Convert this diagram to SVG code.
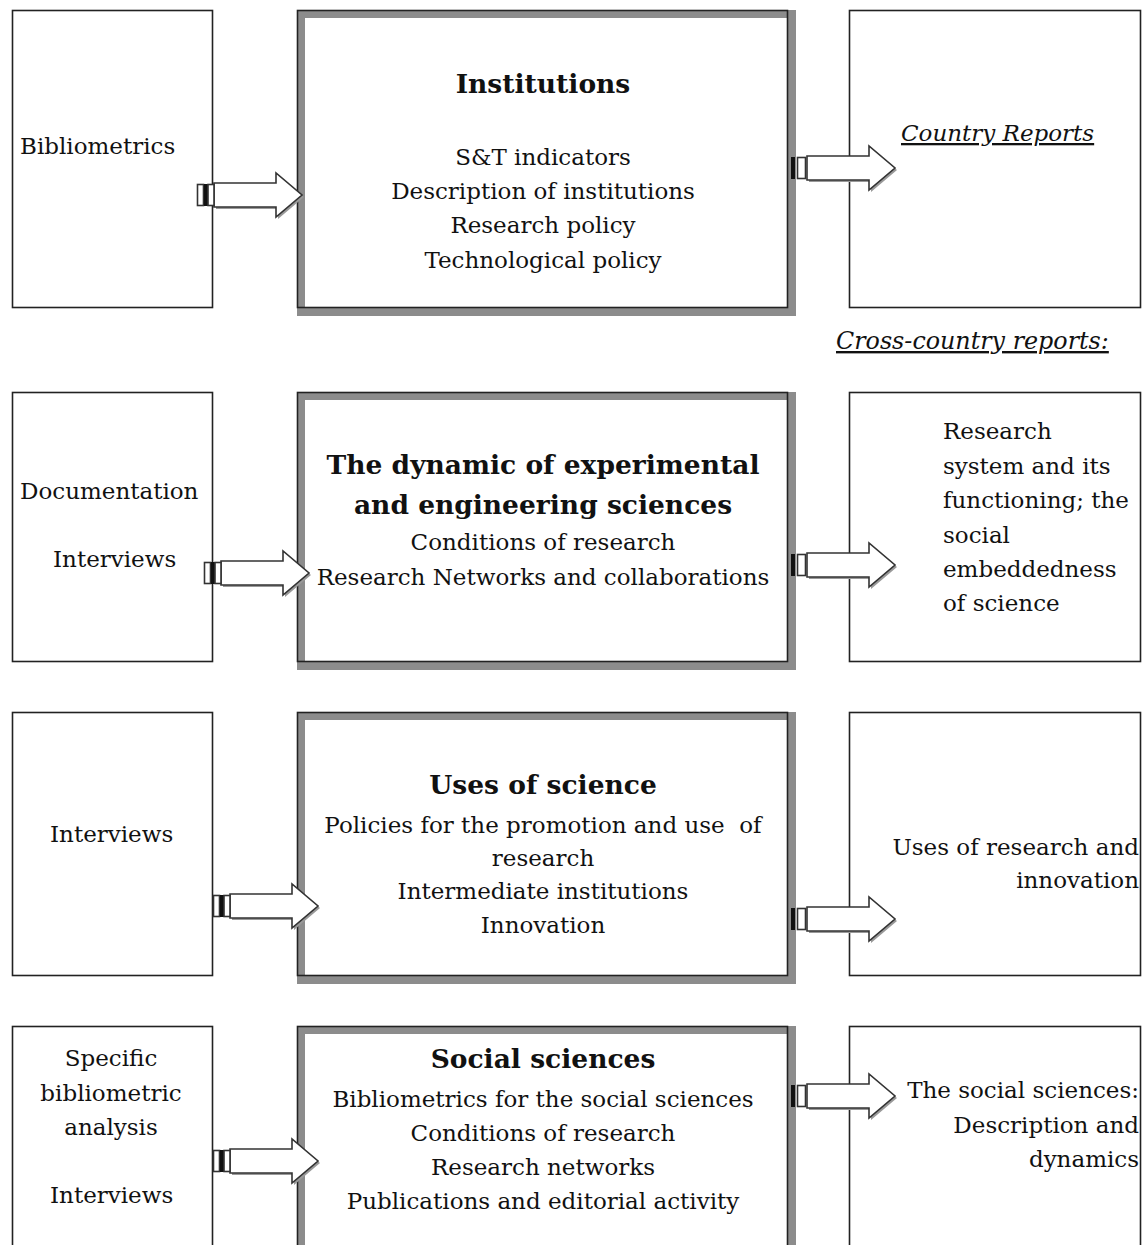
<svg xmlns="http://www.w3.org/2000/svg" width="1142" height="1245" viewBox="0 0 1142 1245">
<style>
.box{fill:#fff;stroke:#222;stroke-width:1.6}
.frame{fill:#8c8c8c}
.inner{fill:#fff}
.edge{fill:none;stroke:#222;stroke-width:1.6}
text{font-family:"DejaVu Serif","Liberation Serif",serif;font-size:23px;fill:#111}
.c{text-anchor:middle}
.r{text-anchor:end}
.t{font-weight:bold;font-size:26.5px}
.i{font-style:italic;text-decoration:underline;font-size:23.8px}
.ar{fill:#fff;stroke:#333;stroke-width:1.6}
.sh{fill:#999}
</style>
<defs>
<g id="arrow">
<path class="sh" d="M19,-10 H81 V-20 L107,2 L81,24 V14 H19 Z"/>
<path class="ar" d="M17,-12 H79 V-22 L105,0 L79,22 V12 H17 Z"/>
<rect class="ar" x="0.5" y="-10.5" width="6" height="21"/>
<rect x="7" y="-11" width="4" height="22" fill="#111"/>
<rect class="ar" x="11" y="-10.5" width="6" height="21"/>
</g>
<g id="arrowR">
<path class="sh" d="M19,-10 H81 V-20 L107,2 L81,24 V14 H19 Z"/>
<path class="ar" d="M17,-12 H79 V-22 L105,0 L79,22 V12 H17 Z"/>
<rect x="1" y="-11" width="4" height="22" fill="#111"/>
<rect class="ar" x="7.5" y="-10.5" width="8" height="21"/>
</g>
</defs>

<!-- Row 1 -->
<g id="n-bibliometrics">
<rect class="box" x="12.5" y="10.5" width="200" height="297"/>
<text x="20" y="154">Bibliometrics</text>
</g>
<g id="n-institutions">
<rect class="frame" x="297" y="10" width="499" height="306"/>
<rect class="inner" x="305" y="18" width="482" height="289"/>
<rect class="edge" x="297.5" y="10.5" width="490" height="297"/>
<text class="c t" x="543" y="93">Institutions</text>
<text class="c" x="543" y="165">S&amp;T indicators</text>
<text class="c" x="543" y="199">Description of institutions</text>
<text class="c" x="543" y="233">Research policy</text>
<text class="c" x="543" y="268">Technological policy</text>
</g>
<g id="n-country-reports">
<rect class="box" x="849.5" y="10.5" width="291" height="297"/>
<text class="i" x="901" y="141" style="font-size:23px">Country Reports</text>
</g>
<g id="n-cross-country">
<text class="i" x="836" y="349">Cross-country reports:</text>
</g>

<!-- Row 2 -->
<g id="n-documentation">
<rect class="box" x="12.5" y="392.5" width="200" height="269"/>
<text x="20" y="499">Documentation</text>
<text x="53" y="567">Interviews</text>
</g>
<g id="n-dynamic">
<rect class="frame" x="297" y="392" width="499" height="278"/>
<rect class="inner" x="305" y="400" width="482" height="261"/>
<rect class="edge" x="297.5" y="392.5" width="490" height="269"/>
<text class="c t" x="543" y="474">The dynamic of experimental</text>
<text class="c t" x="543" y="514">and engineering sciences</text>
<text class="c" x="543" y="550">Conditions of research</text>
<text class="c" x="543" y="585">Research Networks and collaborations</text>
</g>
<g id="n-research-system">
<rect class="box" x="849.5" y="392.5" width="291" height="269"/>
<text x="943" y="439">Research</text>
<text x="943" y="474">system and its</text>
<text x="943" y="508">functioning; the</text>
<text x="943" y="543">social</text>
<text x="943" y="577">embeddedness</text>
<text x="943" y="611">of science</text>
</g>

<!-- Row 3 -->
<g id="n-interviews">
<rect class="box" x="12.5" y="712.5" width="200" height="263"/>
<text x="50" y="842">Interviews</text>
</g>
<g id="n-uses">
<rect class="frame" x="297" y="712" width="499" height="272"/>
<rect class="inner" x="305" y="720" width="482" height="255"/>
<rect class="edge" x="297.5" y="712.5" width="490" height="263"/>
<text class="c t" x="543" y="794">Uses of science</text>
<text class="c" x="543" y="833" style="white-space:pre">Policies for the promotion and use  of</text>
<text class="c" x="543" y="866">research</text>
<text class="c" x="543" y="899">Intermediate institutions</text>
<text class="c" x="543" y="933">Innovation</text>
</g>
<g id="n-uses-research">
<rect class="box" x="849.5" y="712.5" width="291" height="263"/>
<text class="r" x="1139" y="855">Uses of research and</text>
<text class="r" x="1139" y="888">innovation</text>
</g>

<!-- Row 4 -->
<g id="n-specific">
<rect class="box" x="12.5" y="1026.5" width="200" height="240"/>
<text class="c" x="111" y="1066">Specific</text>
<text class="c" x="111" y="1101">bibliometric</text>
<text class="c" x="111" y="1135">analysis</text>
<text x="50" y="1203">Interviews</text>
</g>
<g id="n-social">
<rect class="frame" x="297" y="1026" width="499" height="240"/>
<rect class="inner" x="305" y="1034" width="482" height="230"/>
<rect class="edge" x="297.5" y="1026.5" width="490" height="240"/>
<text class="c t" x="543" y="1068">Social sciences</text>
<text class="c" x="543" y="1107">Bibliometrics for the social sciences</text>
<text class="c" x="543" y="1141">Conditions of research</text>
<text class="c" x="543" y="1175">Research networks</text>
<text class="c" x="543" y="1209">Publications and editorial activity</text>
</g>
<g id="n-social-desc">
<rect class="box" x="849.5" y="1026.5" width="291" height="240"/>
<text class="r" x="1139" y="1098">The social sciences:</text>
<text class="r" x="1139" y="1133">Description and</text>
<text class="r" x="1139" y="1167">dynamics</text>
</g>

<g id="connectors">
<use href="#arrow" x="197" y="195"/>
<use href="#arrowR" x="790" y="168"/>
<use href="#arrow" x="204" y="573"/>
<use href="#arrowR" x="790" y="565"/>
<use href="#arrow" x="213" y="906"/>
<use href="#arrowR" x="790" y="919"/>
<use href="#arrow" x="213" y="1161"/>
<use href="#arrowR" x="790" y="1096"/>
</g>
</svg>
